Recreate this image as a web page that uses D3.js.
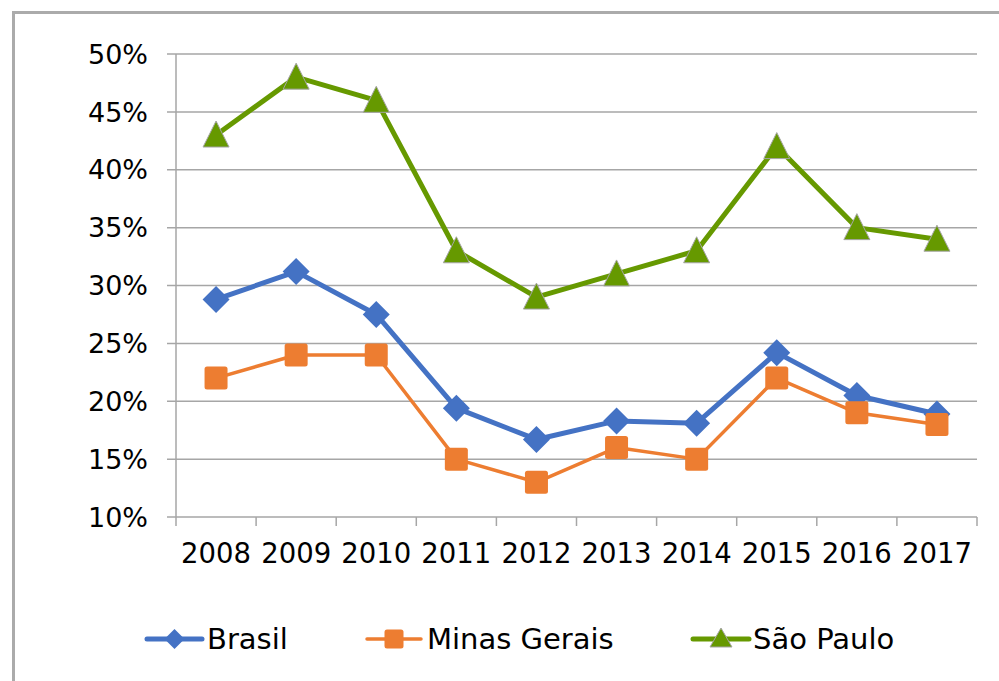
<!DOCTYPE html>
<html><head><meta charset="utf-8">
<script src="https://cdn.jsdelivr.net/npm/d3@7"></script>
<style>
html,body{margin:0;padding:0;background:#fff;}
svg{display:block;font-family:"DejaVu Sans",Verdana,sans-serif;}
</style></head>
<body><svg id="c" width="999" height="681"></svg>
<script>
const years = ["2008","2009","2010","2011","2012","2013","2014","2015","2016","2017"];
const brasil = [28.8, 31.2, 27.5, 19.4, 16.7, 18.3, 18.1, 24.2, 20.5, 18.9];
const minasGerais = [22, 24, 24, 15, 13, 16, 15, 22, 19, 18];
const saoPaulo = [43, 48, 46, 33, 29, 31, 33, 42, 35, 34];
const yTicks = [10, 15, 20, 25, 30, 35, 40, 45, 50];
const seriesNames = ["Brasil", "Minas Gerais", "São Paulo"];

const svg = d3.select("#c");
// outer border
svg.append("path").attr("d","M13.5,681 V12.5 H999").attr("fill","none").attr("stroke","#ababab").attr("stroke-width",3);

const L=176, R=977, T=54, B=517;
const x = d3.scaleBand().domain(years).range([L,R]);
const y = d3.scaleLinear().domain([10,50]).range([B,T]);

// gridlines
svg.append("g").selectAll("line").data(yTicks).join("line")
  .attr("x1",L-9).attr("x2",R).attr("y1",d=>y(d)).attr("y2",d=>y(d))
  .attr("stroke","#a6a6a6").attr("stroke-width",1.5);
// y axis line
svg.append("line").attr("x1",L).attr("x2",L).attr("y1",T).attr("y2",B+0).attr("stroke","#a6a6a6").attr("stroke-width",1.5);
// x ticks
const xt = d3.range(years.length+1).map(i=>L+i*x.bandwidth());
svg.append("g").selectAll("line").data(xt).join("line")
  .attr("x1",d=>d).attr("x2",d=>d).attr("y1",B).attr("y2",B+9)
  .attr("stroke","#a6a6a6").attr("stroke-width",1.5);
// y labels
svg.append("g").selectAll("text").data(yTicks).join("text")
  .attr("x",148).attr("y",d=>y(d)).attr("dy","0.36em").attr("text-anchor","end")
  .attr("font-size",27).attr("fill","#000").text(d=>d+"%");
// x labels
svg.append("g").selectAll("text").data(years).join("text")
  .attr("x",d=>x(d)+x.bandwidth()/2).attr("y",563).attr("text-anchor","middle")
  .attr("font-size",27.5).attr("fill","#000").text(d=>d);

const cx = d=>x(d)+x.bandwidth()/2;
const line = d3.line().x((d,i)=>cx(years[i])).y(d=>y(d));

function diamond(g,px,py,s){g.append("path").attr("d",`M${px},${py-s}L${px+s},${py}L${px},${py+s}L${px-s},${py}Z`).attr("fill","#4472c4");}
function square(g,px,py,s){g.append("rect").attr("x",px-s).attr("y",py-s).attr("width",2*s).attr("height",2*s).attr("rx",2.5).attr("fill","#ed7d31");}
function tri(g,px,py,s){g.append("path").attr("d",`M${px},${py-14}L${px+13},${py+12}L${px-13},${py+12}Z`).attr("fill","#669900").attr("stroke","#a5a5a5").attr("stroke-width",1);}

const series = [
  {name:seriesNames[0], data:brasil, color:"#4472c4", w:5, mk:(g,px,py)=>diamond(g,px,py,13.5)},
  {name:seriesNames[1], data:minasGerais, color:"#ed7d31", w:3.5, mk:(g,px,py)=>square(g,px,py,11.5)},
  {name:seriesNames[2], data:saoPaulo, color:"#669900", w:5, mk:(g,px,py)=>tri(g,px,py)}
];
series.forEach(s=>{
  const g = svg.append("g");
  g.append("path").attr("d",line(s.data)).attr("fill","none").attr("stroke",s.color).attr("stroke-width",s.w).attr("stroke-linejoin","round");
  s.data.forEach((v,i)=>s.mk(g,cx(years[i]),y(v)));
});

// legend
const leg = [
  {x0:147, x1:202, tx:207, s:series[0], mk:(g,px,py)=>diamond(g,px,py,10)},
  {x0:367, x1:421, tx:427, s:series[1], mk:(g,px,py)=>square(g,px,py,9.5)},
  {x0:693, x1:749, tx:753, s:series[2], mk:(g,px,py)=>{g.append("path").attr("d",`M${px},${py-11}L${px+11},${py+8}L${px-11},${py+8}Z`).attr("fill","#669900").attr("stroke","#a5a5a5").attr("stroke-width",1);}}
];
leg.forEach(l=>{
  const g = svg.append("g");
  const ly = 639;
  g.append("line").attr("x1",l.x0).attr("x2",l.x1).attr("y1",ly).attr("y2",ly).attr("stroke",l.s.color).attr("stroke-width",l.s.w).attr("stroke-linecap","round");
  l.mk(g,(l.x0+l.x1)/2,ly);
  g.append("text").attr("x",l.tx).attr("y",ly).attr("dy","0.36em").attr("font-size",29).attr("fill","#000").text(l.s.name);
});
</script></body></html>
